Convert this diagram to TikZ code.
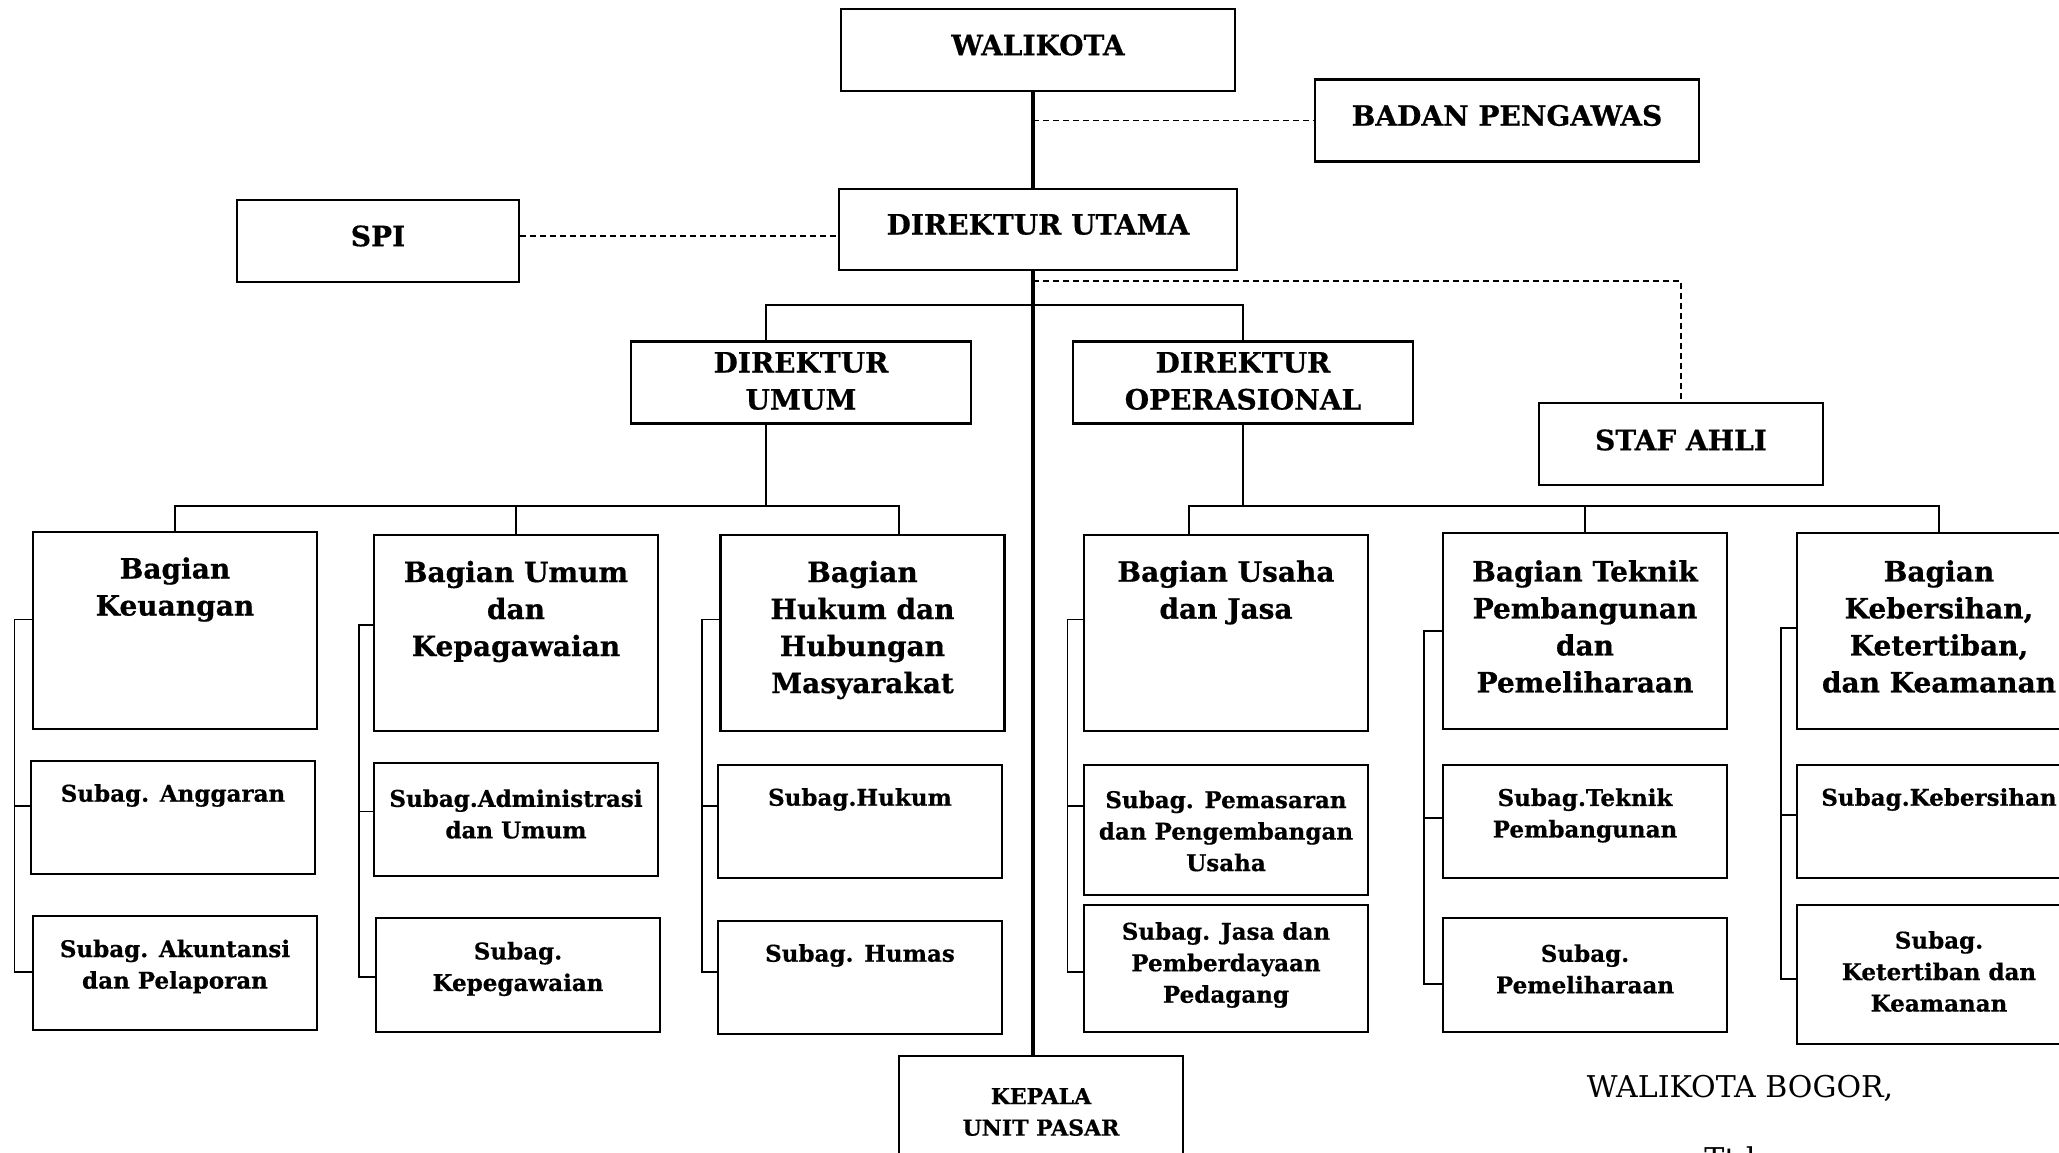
\documentclass[tikz,border=0pt]{standalone}
\usepackage{fontspec}
\setmainfont{DejaVu Serif}[BoldFeatures={FakeBold=0.6}]
\begin{document}
\begin{tikzpicture}[x=1pt,y=-1pt,
  box/.style={draw, line width=2.4pt, inner sep=0pt},
  tp/.style={font=\fontsize{28}{37}\selectfont\bfseries, align=center, inner sep=0pt},
  hd/.style={font=\fontsize{28}{37}\selectfont\bfseries, align=center, inner sep=0pt, yshift=-2.5pt},
  sb/.style={font=\fontsize{23}{31.5}\selectfont\bfseries, align=center, inner sep=0pt, yshift=-2.5pt},
  kpf/.style={font=\fontsize{22}{31.5}\selectfont\bfseries, align=center, inner sep=0pt},
  sig/.style={font=\fontsize{30}{36}\selectfont, inner sep=0pt, anchor=base},
  conn/.style={line width=1.8pt},
  dsh/.style={line width=1.8pt, dash pattern=on 6pt off 4pt},
  mainln/.style={line width=3.5pt}]

\useasboundingbox (0,0) rectangle (2059,1153);
\clip (0,0) rectangle (2059,1153);

% top level boxes
\node[box, minimum width=394pt, minimum height=82pt] (wk) at (1038,50) {};
\node[tp] (wkt) at (1038,45) {WALIKOTA};
\node[box, minimum width=384pt, minimum height=82pt] (bp) at (1507,120.6) {};
\node[tp] (bpt) at (1507,115.5) {BADAN PENGAWAS};
\node[box, minimum width=282.5pt, minimum height=82pt] (spi) at (378,241) {};
\node[tp] (spit) at (378,236) {SPI};
\node[box, minimum width=398pt, minimum height=81pt] (du) at (1038,229.5) {};
\node[tp] (dut) at (1038,224.5) {DIREKTUR UTAMA};
\node[box, minimum width=340pt, minimum height=82pt] (dum) at (801,382.5) {};
\node[tp] (dumt) at (801,381) {DIREKTUR\\UMUM};
\node[box, minimum width=340pt, minimum height=82pt] (dop) at (1243,382.5) {};
\node[tp] (dopt) at (1243,381) {DIREKTUR\\OPERASIONAL};
\node[box, minimum width=284pt, minimum height=82pt] (sa) at (1681,444) {};
\node[tp] (sat) at (1681,440) {STAF AHLI};
\node[box, minimum width=284pt, minimum height=190pt] (kp) at (1041,1151) {};
\node[kpf] (kpt) at (1041,1112) {KEPALA\\UNIT PASAR};

% column 1
\node[box, minimum width=284pt, minimum height=197pt] (bk) at (175,630.5) {};
\node[hd] (bkt) at (175,587) {Bagian\\Keuangan};
\node[box, minimum width=284pt, minimum height=113pt] (an) at (173,817.5) {};
\node[sb] (ant) at (173,793) {Subag. Anggaran};
\node[box, minimum width=284pt, minimum height=114pt] (ak) at (175,973) {};
\node[sb] (akt) at (175,964) {Subag. Akuntansi\\dan Pelaporan};

% column 2
\node[box, minimum width=284pt, minimum height=196pt] (bu) at (516,633) {};
\node[hd] (but) at (516,609) {Bagian Umum\\dan\\Kepagawaian};
\node[box, minimum width=284pt, minimum height=113pt] (ad) at (516,819.5) {};
\node[sb] (adt) at (516,811.5) {Subag.Administrasi\\dan Umum};
\node[box, minimum width=284pt, minimum height=113.5pt] (kpg) at (518,975) {};
\node[sb] (kpgt) at (518,966.5) {Subag.\\Kepegawaian};

% column 3
\node[box, minimum width=284pt, minimum height=196pt] (bh) at (862.5,633) {};
\node[hd] (bht) at (862.5,627.5) {Bagian\\Hukum dan\\Hubungan\\Masyarakat};
\node[box, minimum width=284pt, minimum height=113pt] (hk) at (860,821.5) {};
\node[sb] (hkt) at (860,797) {Subag.Hukum};
\node[box, minimum width=284pt, minimum height=113pt] (hm) at (860,977.5) {};
\node[sb] (hmt) at (860,953) {Subag. Humas};

% column 4
\node[box, minimum width=284pt, minimum height=196pt] (us) at (1226,633) {};
\node[hd] (ust) at (1226,590) {Bagian Usaha\\dan Jasa};
\node[box, minimum width=284pt, minimum height=130pt] (pm) at (1226,830) {};
\node[sb] (pmt) at (1226,828.5) {Subag. Pemasaran\\dan Pengembangan\\Usaha};
\node[box, minimum width=284pt, minimum height=127pt] (js) at (1226,968.5) {};
\node[sb] (jst) at (1226,962.5) {Subag. Jasa dan\\Pemberdayaan\\Pedagang};

% column 5
\node[box, minimum width=284pt, minimum height=196.5pt] (tk) at (1585,631) {};
\node[hd] (tkt) at (1585,624) {Bagian Teknik\\Pembangunan\\dan\\Pemeliharaan};
\node[box, minimum width=284pt, minimum height=113pt] (st) at (1585,821.5) {};
\node[sb] (stt) at (1585,813) {Subag.Teknik\\Pembangunan};
\node[box, minimum width=284pt, minimum height=113.5pt] (pl) at (1585,975) {};
\node[sb] (plt) at (1585,966.5) {Subag.\\Pemeliharaan};

% column 6
\node[box, minimum width=284pt, minimum height=196.5pt] (kb) at (1939,631) {};
\node[hd] (kbt) at (1939,624) {Bagian\\Kebersihan,\\Ketertiban,\\dan Keamanan};
\node[box, minimum width=284pt, minimum height=113pt] (sk) at (1939,821.5) {};
\node[sb] (skt) at (1939,797) {Subag.Kebersihan};
\node[box, minimum width=284pt, minimum height=139pt] (kt) at (1939,974.5) {};
\node[sb] (ktt) at (1939,969) {Subag.\\Ketertiban dan\\Keamanan};

% signature
\node[sig] (sg1) at (1740,1097) {WALIKOTA BOGOR,};
\node[sig] (sg2) at (1730,1169) {Ttd};

% helper coordinates
\coordinate (mx) at (1033,0);
\coordinate (yspi) at (0,236);
\coordinate (ysa) at (0,281);
\coordinate (y305) at (0,305);
\coordinate (y506) at (0,506);
\coordinate (xdu) at (766,0);
\coordinate (xbh) at (899,0);
\coordinate (xus) at (1189,0);

% main line
\draw[mainln] (wk.south -| mx) -- (du.north -| mx);
\draw[mainln] (du.south -| mx) -- (kp.north -| mx);

% dashed
\draw[dsh] (mx |- bp.west) -- (bp.west);
\draw[dsh] (spi.east |- yspi) -- (du.west |- yspi);
\draw[dsh] (mx |- ysa) -| (sa.north);

% directors
\draw[conn] (xdu |- dum.north) -- (xdu |- y305) -- (dop.north |- y305) -- (dop.north);

\draw[conn] (xdu |- dum.south) -- (xdu |- y506);
\draw[conn] (bk.north) -- (bk.north |- y506) -- (xbh |- y506) -- (xbh |- bh.north);
\draw[conn] (bu.north) -- (bu.north |- y506);

\draw[conn] (dop.south) -- (dop.south |- y506);
\draw[conn] (xus |- us.north) -- (xus |- y506) -- (kb.north |- y506) -- (kb.north);
\draw[conn] (tk.north) -- (tk.north |- y506);

% brackets
\draw[conn] (bk.west |- 0,619.5) -- (14.5,619.5) -- (14.5,972) -- (ak.west |- 0,972);
\draw[conn] (14.5,806) -- (an.west |- 0,806);

\draw[conn] (bu.west |- 0,625) -- (359,625) -- (359,977) -- (kpg.west |- 0,977);
\draw[conn] (359,811.5) -- (ad.west |- 0,811.5);

\draw[conn] (bh.west |- 0,619.5) -- (702,619.5) -- (702,972) -- (hm.west |- 0,972);
\draw[conn] (702,806) -- (hk.west |- 0,806);

\draw[conn] (us.west |- 0,619.5) -- (1067.4,619.5) -- (1067.4,972) -- (js.west |- 0,972);
\draw[conn] (1067.4,806) -- (pm.west |- 0,806);

\draw[conn] (tk.west |- 0,631) -- (1424,631) -- (1424,984) -- (pl.west |- 0,984);
\draw[conn] (1424,818) -- (st.west |- 0,818);

\draw[conn] (kb.west |- 0,628) -- (1781,628) -- (1781,979) -- (kt.west |- 0,979);
\draw[conn] (1781,815) -- (sk.west |- 0,815);
\end{tikzpicture}
\end{document}
